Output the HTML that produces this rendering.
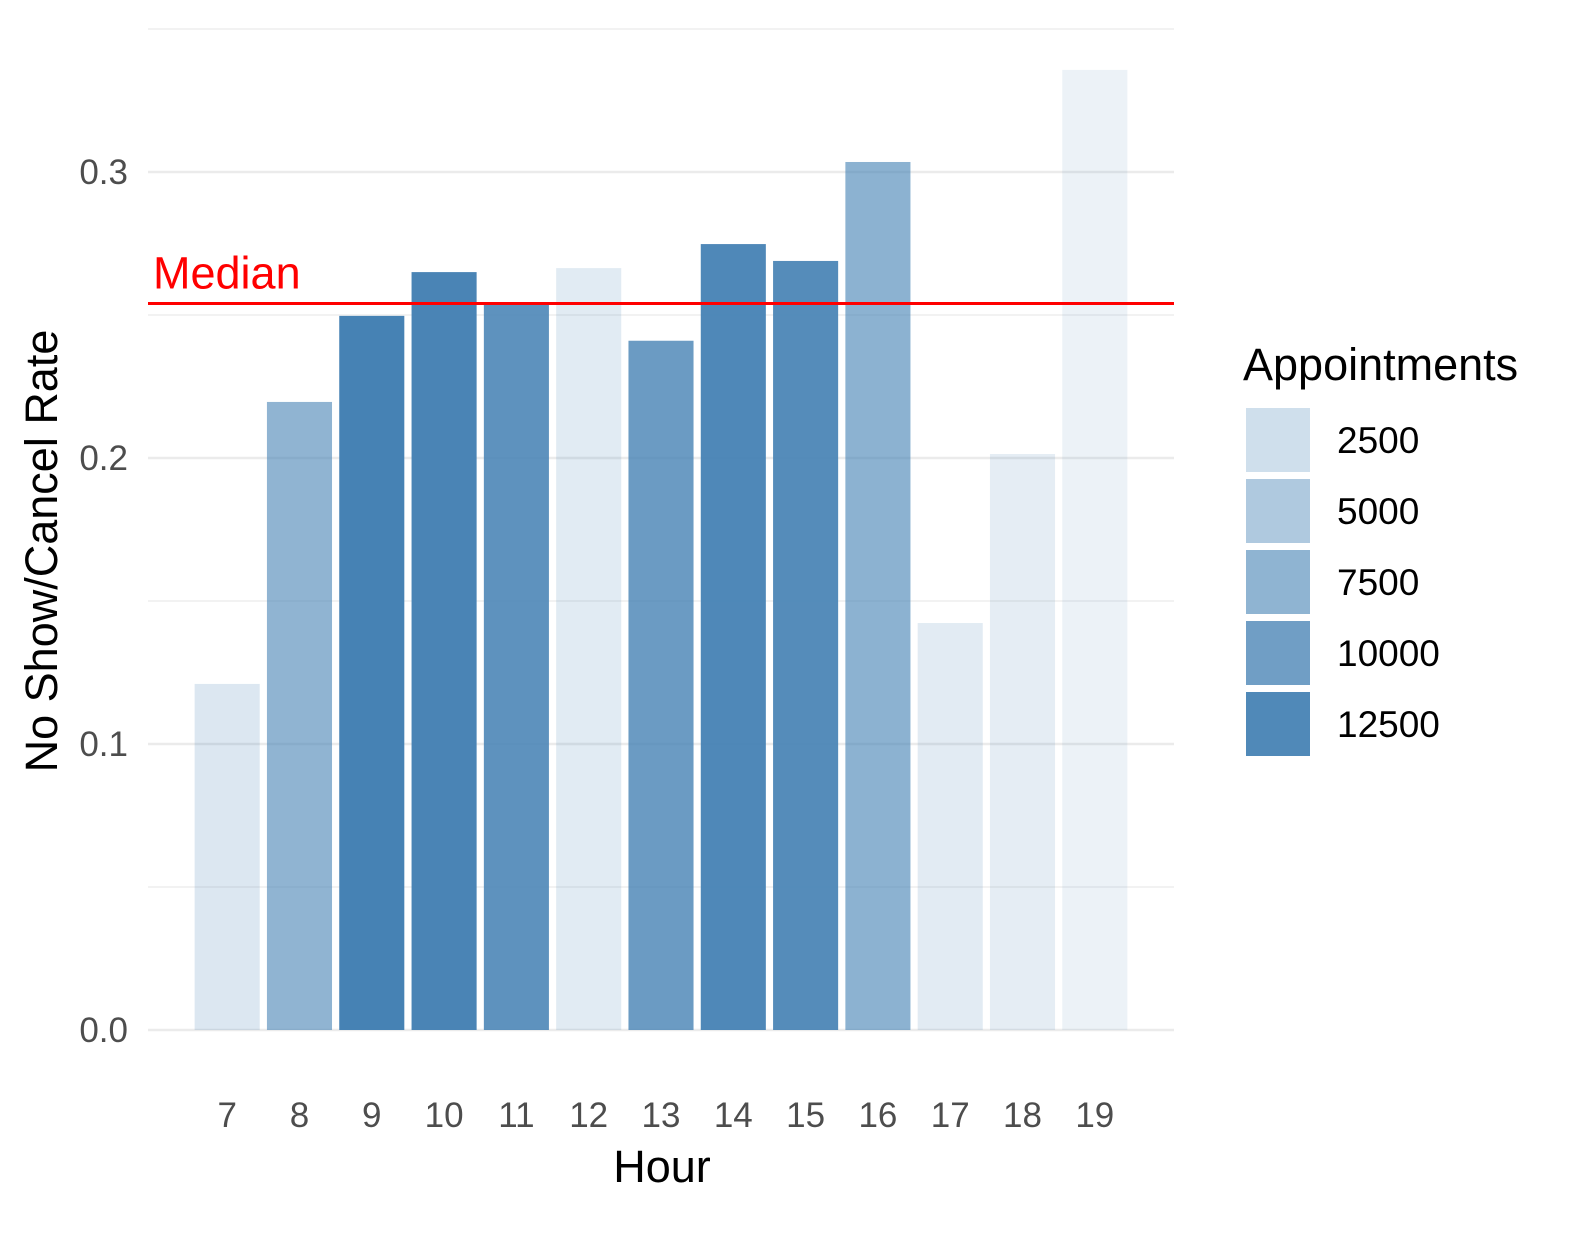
<!DOCTYPE html>
<html><head><meta charset="utf-8"><style>
body{margin:0;background:#fff;}
svg text{font-family:"Liberation Sans",Arial,sans-serif;}
</style></head><body>
<svg id="chart" width="1590" height="1231" viewBox="0 0 1590 1231" xmlns="http://www.w3.org/2000/svg">
<g id="grid"></g>
<g id="bars"></g>
<g id="median"></g>
<g id="yticks"></g>
<g id="xticks"></g>
<text x="662" y="1182" font-size="45" text-anchor="middle" fill="#000">Hour</text>
<text transform="translate(57,551) rotate(-90)" font-size="45" text-anchor="middle" fill="#000">No Show/Cancel Rate</text>
<g id="legend">
<text x="1243" y="380" font-size="45" fill="#000">Appointments</text>
</g>
</svg>
<script>
const hours = [7,8,9,10,11,12,13,14,15,16,17,18,19];
const rates = [0.121,0.2196,0.2497,0.265,0.254,0.2664,0.241,0.2748,0.2689,0.3035,0.1423,0.2014,0.3357];
const appointments = [1450,7460,13290,13000,11400,1040,10400,12600,12100,7750,1000,750,170];
const yTicks = [0.0,0.1,0.2,0.3];
const yTickLabels = ["0.0","0.1","0.2","0.3"];
const yMinor = [0.05,0.15,0.25,0.35];
const legendValues = [2500,5000,7500,10000,12500];

const NS="http://www.w3.org/2000/svg";
const X0=148, X1=1174;
const xMin=5.905, xMax=20.095;
function xs(h){return X0+(h-xMin)/(xMax-xMin)*(X1-X0);}
function ys(v){return 1030-v*2860;}
const bw=0.9*(X1-X0)/(xMax-xMin);
function alphaOf(a){return Math.max(0.1,Math.min(1,0.26+(a-2500)*0.0000686));}
function mk(tag,attrs,parent){const e=document.createElementNS(NS,tag);for(const k in attrs)e.setAttribute(k,attrs[k]);parent.appendChild(e);return e;}

const grid=document.getElementById('grid');
yMinor.forEach(v=>{const l=mk('line',{x1:X0,x2:X1,y1:ys(v),y2:ys(v),stroke:'#ebebeb','stroke-width':1.3},grid);

});
yTicks.forEach(v=>{const l=mk('line',{x1:X0,x2:X1,y1:ys(v),y2:ys(v),stroke:'#ebebeb','stroke-width':2.6},grid);

});

const bars=document.getElementById('bars');
hours.forEach((h,i)=>{const r=mk('rect',{x:xs(h)-bw/2,y:ys(rates[i]),width:bw,height:ys(0)-ys(rates[i]),fill:'#4682B4','fill-opacity':alphaOf(appointments[i])},bars);

});

const sorted=[...rates].sort((a,b)=>a-b);
const med=sorted[Math.floor(sorted.length/2)];
const mg=document.getElementById('median');
const ml=mk('line',{x1:X0,x2:X1,y1:ys(med),y2:ys(med),stroke:'#ff0000','stroke-width':3},mg);


const mt=mk('text',{x:153,y:ys(med)-15,'font-size':45,fill:'#ff0000'},mg);
mt.textContent='Median';



const yt=document.getElementById('yticks');
yTicks.forEach((v,i)=>{const t=mk('text',{x:128,y:ys(v)+12,'font-size':35,fill:'#4d4d4d','text-anchor':'end'},yt);
t.textContent=yTickLabels[i];

});

const xt=document.getElementById('xticks');
hours.forEach(h=>{const t=mk('text',{x:xs(h),y:1127,'font-size':35,fill:'#4d4d4d','text-anchor':'middle'},xt);
t.textContent=String(h);

});

const lg=document.getElementById('legend');
legendValues.forEach((v,i)=>{const y=408+i*71;
const r=mk('rect',{x:1246,y:y,width:64,height:64,fill:'#4682B4','fill-opacity':alphaOf(v)},lg);


const t=mk('text',{x:1337,y:y+45,'font-size':37,fill:'#000'},lg);
t.textContent=String(v);

});
</script>
</body></html>
